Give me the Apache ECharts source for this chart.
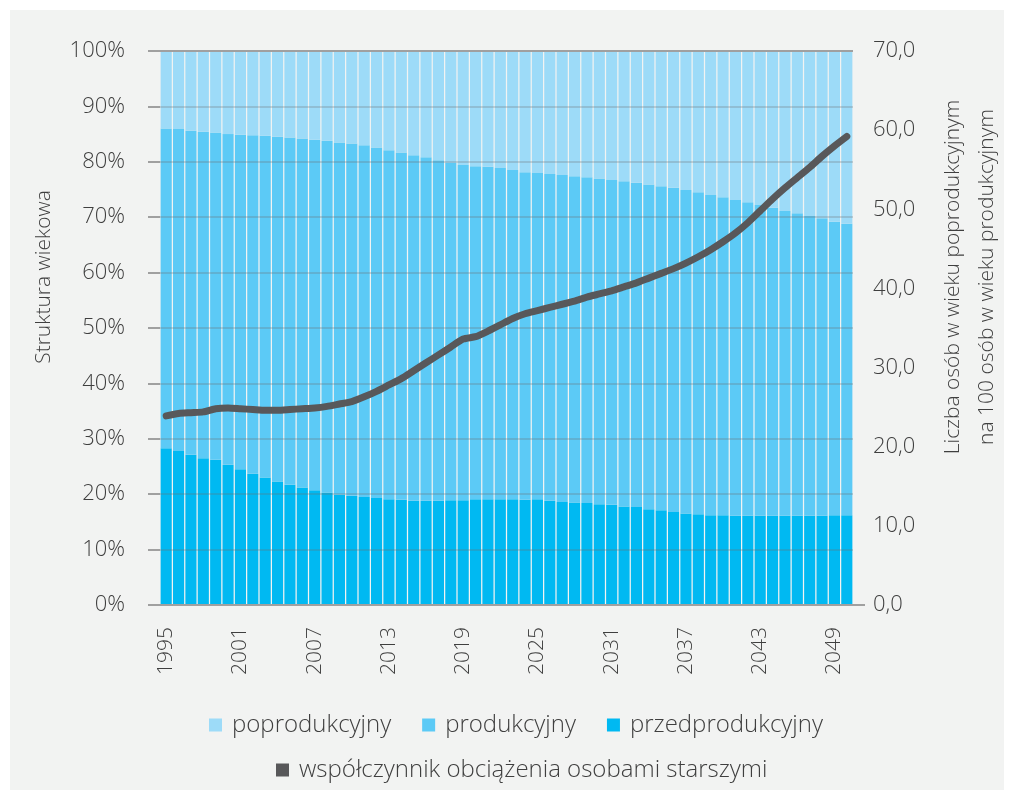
<!DOCTYPE html>
<html>
<head>
<meta charset="utf-8">
<script src="https://cdn.jsdelivr.net/npm/echarts@6/dist/echarts.min.js"></script>
<style>
html,body{margin:0;padding:0;background:#ffffff;}
#bg{position:absolute;left:10px;top:10px;width:994px;height:780px;background:#f2f3f2;}
#chart{position:absolute;left:0;top:0;width:1014px;height:790px;}
</style>
</head>
<body>
<div id="bg"></div>
<div id="chart"></div>
<script>
const years = [];
for (let y = 1995; y <= 2050; y++) years.push(String(y));

const przedprodukcyjny = [28.3,27.8,27.1,26.5,26.2,25.3,24.5,23.7,23.0,22.3,21.7,21.2,20.7,20.3,19.9,19.7,19.5,19.3,19.1,19.0,18.8,18.8,18.8,18.9,18.9,19.1,19.1,19.1,19.1,19.0,19.1,18.8,18.6,18.5,18.4,18.2,18.1,17.8,17.7,17.3,17.1,16.8,16.5,16.4,16.2,16.2,16.1,16.1,16.1,16.1,16.1,16.1,16.1,16.1,16.2,16.2];
const produkcyjny = [57.7,58.1,58.5,58.9,59.1,59.7,60.4,61.1,61.7,62.2,62.7,63.0,63.3,63.5,63.6,63.6,63.5,63.3,63.0,62.7,62.4,62.0,61.5,60.9,60.5,60.1,60.0,59.8,59.4,59.1,58.9,59.0,59.0,58.9,58.8,58.8,58.6,58.7,58.5,58.6,58.5,58.5,58.4,58.1,57.8,57.4,57.0,56.6,56.1,55.6,55.0,54.6,54.1,53.7,53.0,52.6];
const poprodukcyjny = [14.0,14.1,14.4,14.6,14.7,15.0,15.1,15.2,15.3,15.5,15.6,15.8,16.0,16.2,16.5,16.7,17.0,17.4,17.9,18.3,18.8,19.2,19.7,20.2,20.6,20.8,20.9,21.1,21.5,21.9,22.0,22.2,22.4,22.6,22.8,23.0,23.3,23.5,23.8,24.1,24.4,24.7,25.1,25.5,26.0,26.4,26.9,27.3,27.8,28.3,28.9,29.3,29.8,30.2,30.8,31.2];
const wspolczynnik = [23.9,24.2,24.3,24.4,24.8,24.9,24.8,24.7,24.6,24.6,24.7,24.8,24.9,25.1,25.4,25.7,26.3,27.0,27.8,28.6,29.6,30.6,31.6,32.6,33.6,33.9,34.6,35.4,36.2,36.8,37.2,37.6,38.0,38.4,38.9,39.3,39.7,40.2,40.7,41.3,41.9,42.5,43.2,44.0,44.9,45.9,47.0,48.3,49.8,51.3,52.7,54.0,55.3,56.7,58.0,59.2];

const FONT = "'Open Sans', 'Noto Sans', sans-serif";
const TXT = '#3f3f3f';
const chart = echarts.init(document.getElementById('chart'), null, {renderer: 'canvas'});

chart.setOption({
  backgroundColor: 'transparent',
  animation: false,
  textStyle: {fontFamily: FONT, fontWeight: 300, color: TXT},
  grid: {left: 160, right: 161, top: 51, bottom: 185, containLabel: false},
  legend: [
    {
      data: ['poprodukcyjny', 'produkcyjny', 'przedprodukcyjny'],
      left: 204, top: 708, orient: 'horizontal',
      icon: 'rect', itemWidth: 13, itemHeight: 13, itemGap: 31,
      textStyle: {fontFamily: FONT, fontWeight: 300, fontSize: 24, color: TXT, padding: [0,0,0,5]},
      selectedMode: false
    },
    {
      data: ['współczynnik obciążenia osobami starszymi'],
      left: 271, top: 753, orient: 'horizontal',
      icon: 'rect', itemWidth: 13, itemHeight: 13,
      textStyle: {fontFamily: FONT, fontWeight: 300, fontSize: 24, color: TXT, padding: [0,0,0,5]},
      selectedMode: false
    }
  ],
  xAxis: {
    type: 'category',
    data: years,
    boundaryGap: true,
    axisLine: {show: false},
    axisTick: {show: false},
    axisLabel: {
      interval: 5, rotate: 90, margin: 22,
      fontFamily: FONT, fontWeight: 300, fontSize: 21, color: TXT
    },
    splitLine: {show: false}
  },
  yAxis: [
    {
      type: 'value', min: 0, max: 100, interval: 10, z: 3,
      axisLine: {show: false},
      axisTick: {show: true, length: 12, lineStyle: {color: '#a0a0a0', width: 2}},
      axisLabel: {
        margin: 35, formatter: '{value}%',
        fontFamily: FONT, fontWeight: 300, fontSize: 22, color: TXT
      },
      splitLine: {show: true, lineStyle: {color: 'rgba(110,110,110,0.35)', width: 1.5}}
    },
    {
      type: 'value', min: 0, max: 70, interval: 10, position: 'right',
      axisLine: {show: false},
      axisTick: {show: false},
      axisLabel: {
        margin: 20,
        formatter: function (v) { return v.toFixed(1).replace('.', ','); },
        fontFamily: FONT, fontWeight: 300, fontSize: 22, color: TXT
      },
      splitLine: {show: false}
    }
  ],
  graphic: [
    {type: 'line', z: 10, shape: {x1: 148, y1: 605, x2: 865, y2: 605}, style: {stroke: '#a0a0a0', lineWidth: 2}},
    {type: 'line', z: 10, shape: {x1: 160, y1: 51, x2: 853, y2: 51}, style: {stroke: '#a0a0a0', lineWidth: 2}},
    {
      type: 'text', x: 44, y: 277, rotation: Math.PI / 2,
      style: {text: 'Struktura wiekowa', fontFamily: FONT, fontWeight: 300, fontSize: 21, fill: TXT, align: 'center', verticalAlign: 'middle'}
    },
    {
      type: 'text', x: 970, y: 277, rotation: Math.PI / 2,
      style: {text: 'Liczba osób w wieku poprodukcyjnym\nna 100 osób w wieku produkcyjnym', fontFamily: FONT, fontWeight: 300, fontSize: 21, lineHeight: 34, fill: TXT, align: 'center', verticalAlign: 'middle'}
    }
  ],
  series: [
    {
      name: 'przedprodukcyjny', type: 'bar', stack: 'age', data: przedprodukcyjny,
      barCategoryGap: '10%', itemStyle: {color: '#00b9f2'}, z: 2
    },
    {
      name: 'produkcyjny', type: 'bar', stack: 'age', data: produkcyjny,
      barCategoryGap: '10%', itemStyle: {color: '#5ccaf6'}, z: 2
    },
    {
      name: 'poprodukcyjny', type: 'bar', stack: 'age', data: poprodukcyjny,
      barCategoryGap: '10%', itemStyle: {color: '#9ddbf8'}, z: 2
    },
    {
      name: 'współczynnik obciążenia osobami starszymi', type: 'line', yAxisIndex: 1,
      data: wspolczynnik, showSymbol: false, symbol: 'none', smooth: 0.2, z: 6,
      lineStyle: {color: '#58585a', width: 7, cap: 'round', join: 'round'},
      itemStyle: {color: '#58585a'}
    }
  ]
});
</script>
</body>
</html>
